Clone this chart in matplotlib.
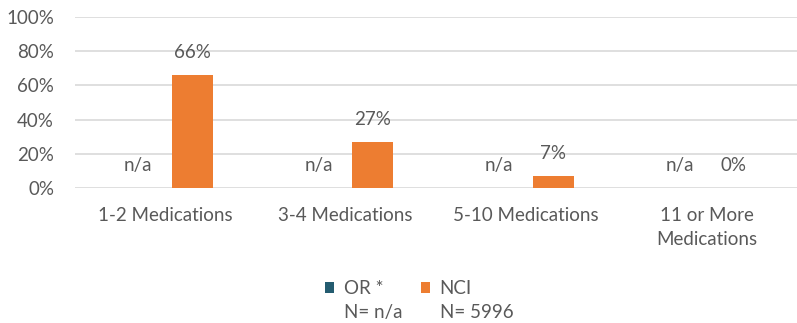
"""Medication count distribution, OR vs NCI."""

import matplotlib.pyplot as plt
import numpy as np

CATEGORIES = ["1-2 Medications", "3-4 Medications", "5-10 Medications",
              "11 or More\nMedications"]
OR_VALUES = [0, 0, 0, 0]
OR_LABELS = ["n/a", "n/a", "n/a", "n/a"]
NCI_VALUES = [66, 27, 7, 0]
SERIES = ["OR *", "NCI"]
SERIES_N = ["N= n/a", "N= 5996"]

OR_COLOR = "#245C70"
NCI_COLOR = "#ED7D31"
TEXT_COLOR = "#595959"
GRID_COLOR = "#D9D9D9"
BAR_WIDTH = 0.227
OFFSET = 0.15
FONT_SIZE = 13.5

plt.rcParams["font.family"] = ["Lato", "DejaVu Sans"]
plt.rcParams["font.size"] = FONT_SIZE


def main():
    figure = plt.figure(figsize=(7.97, 3.23), dpi=100)
    axes = figure.add_axes([0.094, 0.418, 0.906, 0.529])
    x = np.arange(len(CATEGORIES))

    axes.bar(x - OFFSET, OR_VALUES, BAR_WIDTH, color=OR_COLOR,
             label=SERIES[0], zorder=3)
    axes.bar(x + OFFSET, NCI_VALUES, BAR_WIDTH, color=NCI_COLOR,
             label=SERIES[1], zorder=3)

    label_style = dict(textcoords="offset points", xytext=(0, 10),
                       ha="center", va="bottom", color=TEXT_COLOR)
    for pos, value, text in zip(x, OR_VALUES, OR_LABELS):
        axes.annotate(text, (pos - OFFSET, value), **label_style)
    for pos, value in zip(x, NCI_VALUES):
        axes.annotate(f"{value}%", (pos + OFFSET, value), **label_style)

    axes.set_xlim(-0.5, len(CATEGORIES) - 0.5)
    axes.set_ylim(0, 100)
    axes.set_yticks(range(0, 101, 20))
    axes.set_yticklabels([f"{v}%" for v in range(0, 101, 20)])
    axes.set_xticks(x)
    axes.set_xticklabels(CATEGORIES, linespacing=1.45)
    axes.tick_params(length=0, colors=TEXT_COLOR, labelsize=FONT_SIZE)
    axes.tick_params(axis="x", pad=14)
    axes.tick_params(axis="y", pad=15)
    axes.grid(axis="y", color=GRID_COLOR, linewidth=1.2, zorder=0)
    for spine in axes.spines.values():
        spine.set_visible(False)

    legend = figure.legend(
        loc="center", bbox_to_anchor=(0.5, 0.107), ncol=2, frameon=False,
        handlelength=0.5, handleheight=0.5, handletextpad=0.5,
        columnspacing=2.0, fontsize=FONT_SIZE, labelcolor=TEXT_COLOR,
    )

    # Sample sizes sit under each legend entry
    figure.canvas.draw()
    inverse = figure.transFigure.inverted()
    for text, count in zip(legend.get_texts(), SERIES_N):
        box = text.get_window_extent()
        left, bottom = inverse.transform((box.x0, box.y0))
        figure.text(left, bottom - 0.022, count, ha="left", va="top",
                    color=TEXT_COLOR, fontsize=FONT_SIZE)

    figure.savefig("out.png", dpi=100)


if __name__ == "__main__":
    main()
